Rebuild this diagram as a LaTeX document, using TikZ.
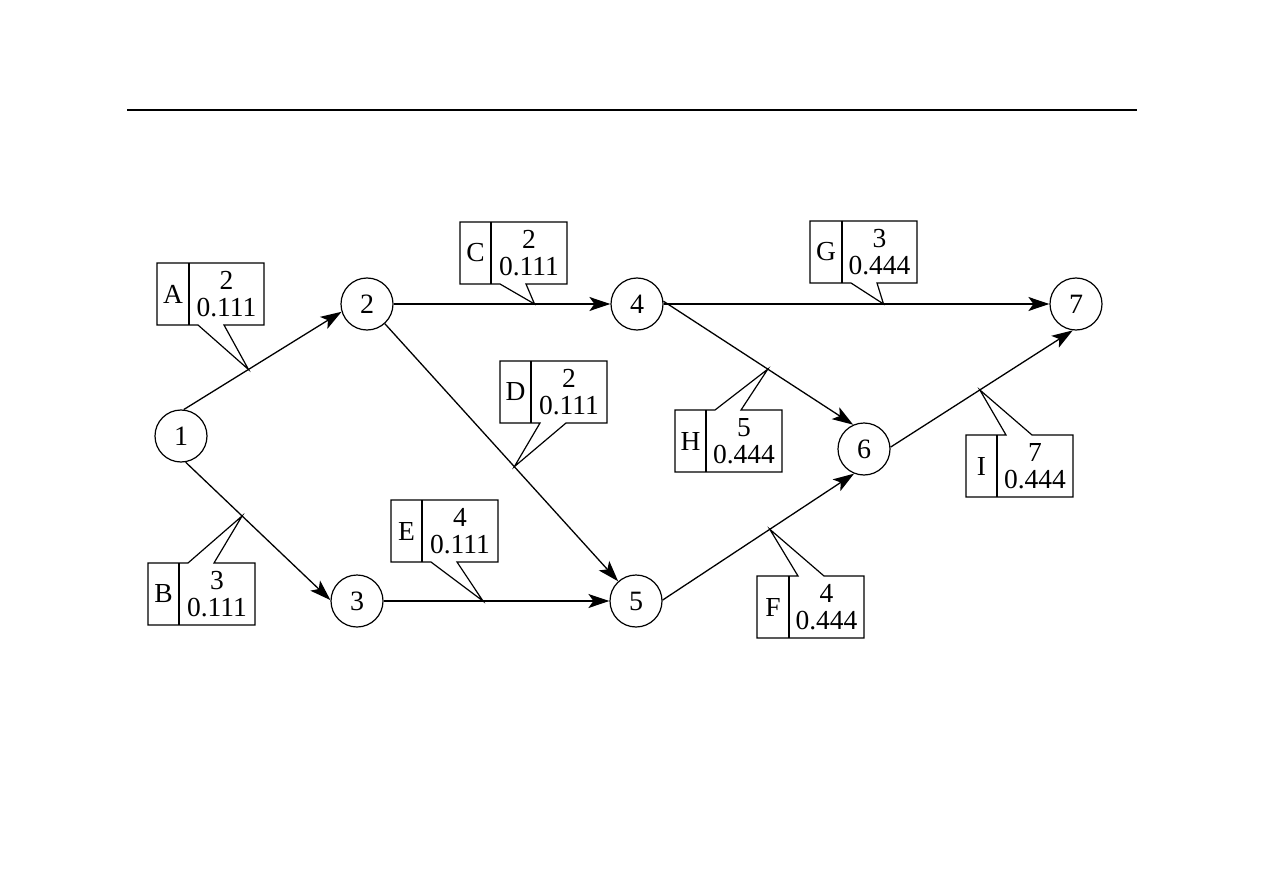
\documentclass[tikz,border=0pt]{standalone}
\usepackage{fontspec}
\setmainfont{Liberation Serif}
\usetikzlibrary{arrows.meta}
\tikzset{
  event/.style={draw, circle, line width=1.2pt, minimum size=52pt, inner sep=0pt, font=\fontsize{28}{28}\selectfont},
  act/.style={line width=1.3pt, -{Stealth[length=21pt,width=14pt,inset=5pt]}},
  box/.style={line width=1.2pt, line join=miter},
  lab/.style={inner sep=0pt, align=center, font=\fontsize{27.5}{27}\selectfont},
}
% #1 name, #2 x1, #3 y1, #4 divider x, #5 tip, #6 letter, #7 number, #8 value
\newcommand{\calloutbot}[8]{%
  \draw[box] (#2,#3) -- (#2+107,#3) -- (#2+107,#3+62) -- (#4+35,#3+62) -- (#5) -- (#4+9,#3+62) -- (#2,#3+62) -- cycle;
  \draw[box] (#4,#3) -- (#4,#3+62);
  \node[lab] (#1l) at ({(#2+#4)/2},#3+31) {#6};
  \node[lab] (#1v) at ({(#4+#2+107)/2},#3+31) {#7\\#8};
}
\newcommand{\callouttop}[8]{%
  \draw[box] (#2,#3) -- (#4+9,#3) -- (#5) -- (#4+35,#3) -- (#2+107,#3) -- (#2+107,#3+62) -- (#2,#3+62) -- cycle;
  \draw[box] (#4,#3) -- (#4,#3+62);
  \node[lab] (#1l) at ({(#2+#4)/2},#3+31) {#6};
  \node[lab] (#1v) at ({(#4+#2+107)/2},#3+31) {#7\\#8};
}
\begin{document}
\begin{tikzpicture}[x=1pt,y=-1pt]
\path[use as bounding box] (0,0) rectangle (1263,893);
\draw[line width=1.3pt] (127,110) coordinate (r1) -- (1137,110) coordinate (r2);

\node[event] (n1) at (181,436) {1};
\node[event] (n2) at (367,304) {2};
\node[event] (n3) at (357,601) {3};
\node[event] (n4) at (637,304) {4};
\node[event] (n5) at (636,601) {5};
\node[event] (n6) at (864,449) {6};
\node[event] (n7) at (1076,304) {7};

\draw[act] (n1.84) -- (n2.197) coordinate[pos=0.41] (tA);
\draw[act] (n1.-80) -- (n3.178) coordinate[pos=0.39] (tB);
\draw[act] (n2.0) -- (n4.180) coordinate[pos=0.65] (tC);
\draw[act] (n2) -- (n5) coordinate[pos=0.555] (tD);
\draw[act] (n3.0) -- (n5.180) coordinate[pos=0.44] (tE);
\draw[act] (n5.2) -- (n6.-112) coordinate[pos=0.56] (tF);
\draw[act] (n4.0) -- (n7.180) coordinate[pos=0.57] (tG);
\draw[act] (n4.6) -- (n6.114) coordinate[pos=0.55] (tH);
\draw[act] (n6.4) -- (n7.-97) coordinate[pos=0.49] (tI);

\calloutbot{A}{157}{263}{189}{tA}{A}{2}{0.111}
\callouttop{B}{148}{563}{179}{tB}{B}{3}{0.111}
\calloutbot{C}{460}{222}{491}{tC}{C}{2}{0.111}
\calloutbot{D}{500}{361}{531}{tD}{D}{2}{0.111}
\calloutbot{E}{391}{500}{422}{tE}{E}{4}{0.111}
\callouttop{F}{757}{576}{789}{tF}{F}{4}{0.444}
\calloutbot{G}{810}{221}{842}{tG}{G}{3}{0.444}
\callouttop{H}{675}{410}{706}{tH}{H}{5}{0.444}
\callouttop{I}{966}{435}{997}{tI}{I}{7}{0.444}
\end{tikzpicture}
\end{document}
